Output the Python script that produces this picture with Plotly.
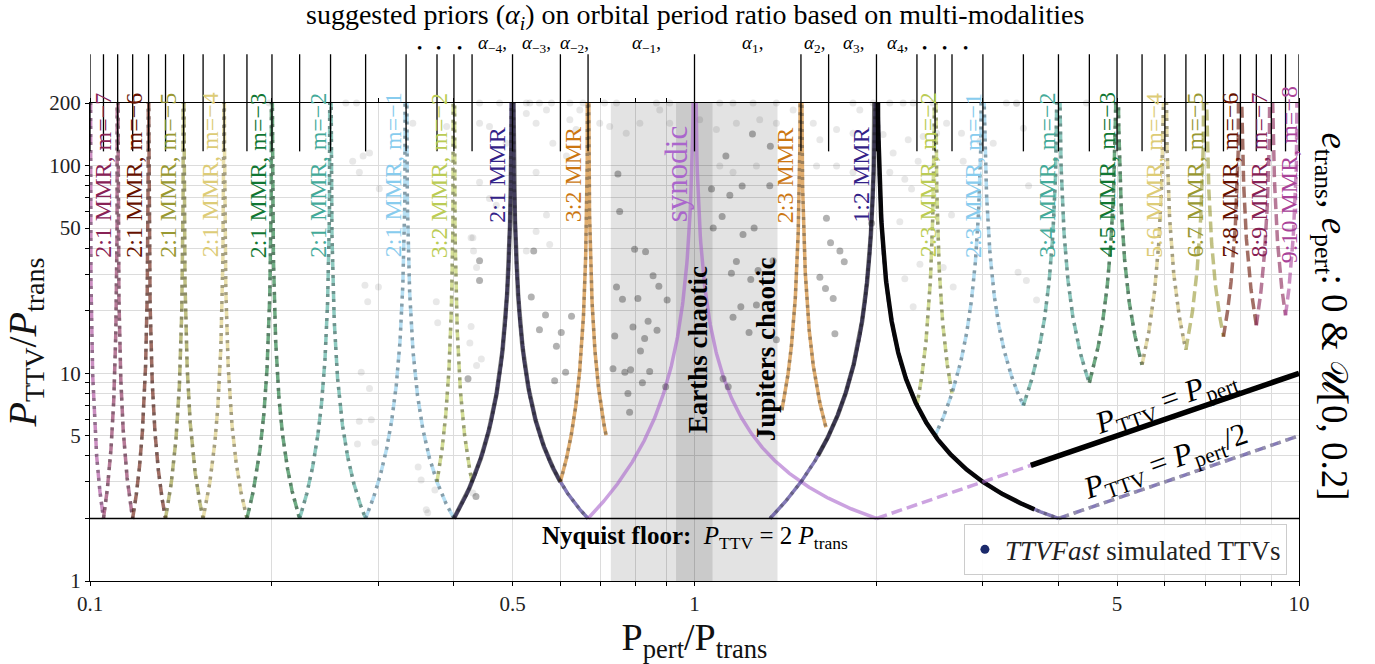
import numpy as np
import plotly.graph_objects as go

FONT = "Liberation Serif, DejaVu Serif, serif"

# ---------------- data ----------------
# axis limits (P_TTV/P_trans)
Y_MIN, Y_MAX = 1, 200
NYQUIST = 2

# near-resonance super-period curves  P_TTV = 1/|b - a/x|,  x = P_pert/P_trans
res_names = ["2:1 m=-8", "2:1 m=-7", "2:1 m=-6", "2:1 m=-5", "2:1 m=-4", "2:1 m=-3", "2:1 m=-2",
             "2:1 m=-1", "3:2 m=-2", "2:1", "3:2", "synodic", "2:3", "1:2", "2:3 m=-2", "2:3 m=-1",
             "3:4 m=-2", "4:5 m=-3", "5:6 m=-4", "6:7 m=-5", "7:8 m=-6", "8:9 m=-7", "9:10 m=-8"]
res_a = [1, 1, 1, 1, 1, 1, 1, 1, 2, 1, 2, 1, 3, 2, 5, 3, 4, 5, 6, 7, 8, 9, 10]
res_b = [10, 9, 8, 7, 6, 5, 4, 3, 5, 2, 3, 1, 2, 1, 2, 1, 1, 1, 1, 1, 1, 1, 1]
res_x0 = [0.1, 0.1053, 0.1176, 0.1333, 0.1538, 0.1818, 0.2222, 0.2857, 0.375, 0.4, 0.6,
          0.6667, 1.395, 1.3333, 2.333, 2.5, 3.5, 4.5, 5.5, 6.5, 7.5, 8.5, 9.5]
res_x1 = [0.1053, 0.1176, 0.1333, 0.1538, 0.1818, 0.2222, 0.2857, 0.4, 0.4286, 0.6667, 0.714,
          2.0, 1.65, 4.0, 2.667, 3.5, 4.5, 5.5, 6.5, 7.5, 8.5, 9.5, 10.0]
PINK, WINE, RED, OLIVE, SAND = "#AA4499", "#882255", "#661100", "#999933", "#DDCC77"
GREEN, TEAL, CYAN, PEAR = "#117733", "#44AA99", "#88CCEE", "#BBCC55"
INDIGO, ORANGE, PURPLE = "#332288", "#CC7711", "#AA66CC"
res_color = [PINK, WINE, RED, OLIVE, SAND, GREEN, TEAL, CYAN, PEAR, INDIGO, ORANGE, PURPLE,
             ORANGE, INDIGO, PEAR, CYAN, TEAL, GREEN, SAND, OLIVE, RED, WINE, PINK]
res_dashed = [1, 1, 1, 1, 1, 1, 1, 1, 1, 0, 0, 0, 0, 0, 1, 1, 1, 1, 1, 1, 1, 1, 1]
res_simdots = [1, 1, 1, 1, 1, 1, 1, 1, 1, 1, 1, 0, 1, 1, 1, 1, 1, 1, 1, 0, 0, 0, 0]

# dense simulated stretches (resonance index, x from, x to, darkness)
dense_idx = [9, 13, 13]
dense_x0 = [0.4, 1.6, 2.0]
dense_x1 = [0.6, 2.0, 3.65]
dense_alpha = [0.5, 0.55, 0.95]

# aliased linear branches P_TTV = s * P_pert
lin_slope = [1.0, 1.0, 0.5]
lin_x0 = [2.0, 3.6, 4.0]
lin_x1 = [3.6, 10.0, 10.0]
lin_color = ["rgba(170,102,204,0.6)", "black", "rgba(51,34,136,0.6)"]
lin_dashed = [1, 0, 1]

# chaotic zones (Jupiters wide, Earths narrow)
band_x0 = [0.727, 0.932]
band_x1 = [1.372, 1.071]

# suggested priors on period ratio
prior_x = [0.1, 2/19, 1/9, 2/17, 1/8, 2/15, 1/7, 2/13, 1/6, 2/11, 1/5, 2/9, 1/4, 2/7, 1/3,
           3/8, 2/5, 3/7, 1/2, 3/5, 2/3, 1, 3/2, 5/3, 2, 7/3, 5/2, 8/3, 3, 7/2, 4, 9/2, 5,
           11/2, 6, 13/2, 7, 15/2, 8, 17/2, 9, 19/2, 10]

# simulated TTV periods
sim_dark_x = [0.747, 0.752, 0.796, 0.830, 0.743, 0.760, 0.806, 0.854, 0.873, 0.838, 0.791, 0.814,
              0.827, 0.867, 0.733, 0.767, 0.784, 0.776, 0.781, 0.820, 0.843, 0.896, 0.738, 0.901,
              1.247, 1.335, 1.199, 1.332, 1.127, 1.144, 1.111, 1.203, 1.255, 1.173, 1.151, 1.239,
              1.193, 1.158, 1.115, 1.137, 1.266, 1.231, 1.366, 1.274, 1.349, 1.653, 1.679, 1.740,
              1.769, 1.647, 1.696, 1.707, 1.612, 1.963, 1.074, 1.067, 0.542, 0.554, 0.567, 0.591,
              0.602, 0.626, 0.612, 0.587, 0.537, 0.441, 0.441, 0.422, 0.435]
sim_dark_p = [91, 60, 39.5, 38.5, 26, 22.7, 22.9, 29.5, 26.2, 17.8, 16.7, 12.8,
              14.7, 16.1, 10.5, 10.1, 10.4, 8.0, 6.5, 9.0, 10.2, 8.6, 15.1, 22.5,
              142, 124, 79.6, 80, 111, 71.9, 56.8, 46.5, 50, 34.5, 30.3, 28.3,
              20.9, 18.6, 9.4, 8.6, 21.3, 15.7, 14.5, 31.2, 34.8, 55.7, 42.5, 38.8,
              34.4, 25.6, 22.9, 15.5, 29, 52.8, 50, 77, 38.8, 16.2, 19.1, 13.5,
              15.7, 18.8, 10.1, 9.2, 23.3, 34.8, 28, 9.4, 2.55]
sim_faint_x = [0.279, 0.292, 0.281, 0.290, 0.277, 0.296, 0.349, 0.353, 0.362, 0.372, 0.430, 0.444,
               0.427, 0.436, 0.425, 0.374, 0.376, 0.285, 0.300, 0.288, 0.360,
               2.257, 2.344, 2.389, 2.514, 2.612, 2.765, 2.051, 2.131, 2.104, 2.228, 2.286, 2.662,
               2.783, 2.966, 3.12, 3.41, 3.50, 3.57, 2.186, 2.36, 2.228, 2.30, 2.679, 2.579, 3.43,
               3.54, 3.68,
               0.272, 0.283, 0.290, 0.279, 0.301, 0.342, 0.389, 0.441, 0.527, 0.458, 0.430, 0.436,
               0.547, 0.488,
               0.527, 0.547, 0.569, 0.583, 0.614, 0.637, 0.458, 0.441, 0.470, 0.547, 0.569, 0.576,
               0.427, 0.431,
               0.622, 0.646, 0.697, 0.724, 0.771, 0.812, 0.876, 0.910, 1.020, 1.087, 1.173, 1.282,
               1.366, 1.456, 1.572, 1.612, 1.718, 1.829, 1.877, 1.101, 1.158, 1.266, 1.592, 1.718,
               1.829]
sim_faint_p = [5.88, 5.98, 10.1, 8.45, 4.56, 4.64, 3.54, 3.06, 2.13, 2.74, 2.65, 11.7,
               16.8, 10.9, 14.0, 22.1, 17.5, 26.5, 26, 22.1, 2.2,
               133, 105, 138, 143, 160, 143, 141, 115, 92.7, 86, 77.2, 57.8,
               105, 131, 128, 199, 151, 80, 53.7, 33.5, 28.5, 20.9, 26, 32.3, 30.6,
               28, 22.5,
               105, 111, 115, 92.7, 77.3, 160, 154, 160, 38.8, 69.3, 44.9, 32.3,
               92.7, 128,
               178, 160, 185, 128, 111, 149, 154, 83.2, 64.4, 48.2, 57.8, 41.7,
               44.9, 38.8,
               166, 185, 160, 154, 143, 160, 185, 160, 166, 149, 160, 166,
               160, 185, 160, 133, 149, 143, 185, 99.6, 92.7, 99.6, 99.6, 99.6,
               92.7]
# simulations that hit the P_TTV cap (200)
sim_cap_x = [0.198, 0.265, 0.276, 0.441, 0.476, 0.527, 0.534, 0.554, 0.580, 0.622, 0.654, 0.710,
             0.743, 0.865, 0.910, 1.101, 1.158, 1.250, 1.366, 1.829, 1.975, 2.104, 2.214, 2.30,
             2.48, 3.28, 3.41, 4.45]

# curve labels
label_text = ["2:1 MMR, m=−7", "2:1 MMR, m=−6", "2:1 MMR, m=−5", "2:1 MMR, m=−4", "2:1 MMR, m=−3",
              "2:1 MMR, m=−2", "2:1 MMR, m=−1", "3:2 MMR, m=−2", "2:1 MMR", "3:2 MMR", "2:3 MMR",
              "1:2 MMR", "2:3 MMR, m=−2", "2:3 MMR, m=−1", "3:4 MMR, m=−2", "4:5 MMR, m=−3",
              "5:6 MMR, m=−4", "6:7 MMR, m=−5", "7:8 MMR, m=−6", "8:9 MMR, m=−7", "9:10 MMR, m=−8"]
label_at = [1/9, 1/8, 1/7, 1/6, 1/5, 1/4, 1/3, 2/5, 1/2, 2/3, 3/2, 2, 5/2, 3, 4, 5, 6, 7, 8, 9, 10]
label_color = [WINE, RED, OLIVE, SAND, GREEN, TEAL, CYAN, PEAR, INDIGO, ORANGE, ORANGE, INDIGO,
               PEAR, CYAN, TEAL, GREEN, SAND, OLIVE, RED, WINE, PINK]
label_dx = [-14, -14, -15, -14, -14, -12, -13, -15, -15, -15, -16, -15, -7, -10, -11, -10, -11,
            -10, -10, -12, -10]

alpha_text = ["<i>α</i><sub>−4</sub>,", "<i>α</i><sub>−3</sub>,", "<i>α</i><sub>−2</sub>,",
              "<i>α</i><sub>−1</sub>,", "<i>α</i><sub>1</sub>,", "<i>α</i><sub>2</sub>,",
              "<i>α</i><sub>3</sub>,", "<i>α</i><sub>4</sub>,"]

x_major = [0.1, 0.5, 1, 5, 10]
x_minor = [0.2, 0.3, 0.4, 0.6, 0.7, 0.8, 0.9, 2, 3, 4, 6, 7, 8, 9]
y_major = [1, 5, 10, 50, 100, 200]
y_minor = [2, 3, 4, 6, 7, 8, 9, 20, 30, 40, 60, 70, 80, 90]


def ttv_curve(a, b, x0, x1, n=600):
    xs = np.geomspace(x0, x1, n)
    peak = a / b
    if x0 < peak < x1:
        xs = np.sort(np.concatenate([xs, [peak]]))
    f = np.abs(b - a / xs)
    return xs, 1.0 / np.maximum(f, 1e-4)


DASH = "11px,5px"
fig = go.Figure()

# chaotic bands
for x0, x1 in zip(band_x0, band_x1):
    fig.add_trace(go.Scatter(x=[x0, x1, x1, x0, x0], y=[Y_MIN, Y_MIN, Y_MAX, Y_MAX, Y_MIN],
                             mode="lines", fill="toself", fillcolor="rgba(0,0,0,0.11)",
                             line=dict(width=0), hoverinfo="skip", showlegend=False))

# faint simulated points
fig.add_trace(go.Scatter(x=sim_faint_x, y=sim_faint_p, mode="markers",
                         marker=dict(color="rgba(0,0,0,0.09)", size=7), showlegend=False))
fig.add_trace(go.Scatter(x=sim_cap_x, y=[Y_MAX] * len(sim_cap_x), mode="markers", cliponaxis=False,
                         marker=dict(color="rgba(0,0,0,0.09)", size=7), showlegend=False))

# resonance curves
for i in range(len(res_a)):
    xs, ps = ttv_curve(res_a[i], res_b[i], res_x0[i], res_x1[i])
    fig.add_trace(go.Scatter(x=xs, y=ps, mode="lines", opacity=0.6,
                             line=dict(color=res_color[i], width=3.5,
                                       dash=DASH if res_dashed[i] else "solid"),
                             hoverinfo="skip", showlegend=False))
    if res_simdots[i]:
        fig.add_trace(go.Scatter(x=xs, y=ps, mode="lines",
                                 line=dict(color="rgba(60,60,60,0.40)", width=3.5, dash="3px,5px"),
                                 hoverinfo="skip", showlegend=False))

# dense simulated stretches
for k in range(len(dense_idx)):
    i = dense_idx[k]
    xs, ps = ttv_curve(res_a[i], res_b[i], dense_x0[k], dense_x1[k])
    fig.add_trace(go.Scatter(x=xs, y=ps, mode="lines",
                             line=dict(color=f"rgba(0,0,0,{dense_alpha[k]})", width=4.5),
                             hoverinfo="skip", showlegend=False))

# linear aliased branches
for k in range(len(lin_slope)):
    xs = np.array([lin_x0[k], lin_x1[k]])
    fig.add_trace(go.Scatter(x=xs, y=lin_slope[k] * xs, mode="lines",
                             line=dict(color=lin_color[k], width=3.5 if lin_dashed[k] else 5.5,
                                       dash=DASH if lin_dashed[k] else "solid"),
                             hoverinfo="skip", showlegend=False))
xs = np.array([lin_x0[2], lin_x1[2]])
fig.add_trace(go.Scatter(x=xs, y=lin_slope[2] * xs, mode="lines",
                         line=dict(color="rgba(160,160,160,0.6)", width=3.5, dash="3px,5px"),
                         hoverinfo="skip", showlegend=False))

# darker simulated points
fig.add_trace(go.Scatter(x=sim_dark_x, y=sim_dark_p, mode="markers",
                         marker=dict(color="rgba(0,0,0,0.30)", size=7), showlegend=False))

# Nyquist floor
fig.add_trace(go.Scatter(x=[x_major[0], x_major[-1]], y=[NYQUIST, NYQUIST], mode="lines",
                         line=dict(color="black", width=1.6), hoverinfo="skip", showlegend=False))

# legend handle
fig.add_trace(go.Scatter(x=[None], y=[None], mode="markers",
                         marker=dict(color="#1B2A6B", size=9),
                         name="<i>TTVFast</i> simulated TTVs"))

# prior lines above the panel
LOG_TOP = np.log10(Y_MAX)
for px in prior_x:
    fig.add_shape(type="line", xref="x", yref="paper", x0=px, x1=px,
                  y0=np.log10(117) / LOG_TOP, y1=1.102,
                  line=dict(color="black", width=1.3))


def note(x, y, text, size, color="black", xref="paper", yref="paper", angle=0, dx=0):
    return dict(x=x, y=y, xref=xref, yref=yref, text=text, textangle=angle, showarrow=False,
                xshift=dx, xanchor="center", yanchor="middle",
                font=dict(size=size, color=color, family=FONT))


ann = []
for t, at, c, dx in zip(label_text, label_at, label_color, label_dx):
    ann.append(note(np.log10(at), 0.849, t, 24, c, xref="x", angle=-90, dx=dx))
ann.append(note(0, 0.850, "synodic", 31, PURPLE, xref="x", angle=-90, dx=-18))
ann.append(note(np.log10(1.0125), np.log10(13), "<b>Earths chaotic</b>", 27,
                xref="x", yref="y", angle=-90))
ann.append(note(np.log10(1.315), np.log10(13.1), "<b>Jupiters chaotic</b>", 27,
                xref="x", yref="y", angle=-90))
ann.append(note(0.5, 0.092,
                "<b>Nyquist floor:</b>  <i>P</i><sub>TTV</sub> = 2 <i>P</i><sub>trans</sub>", 25))
ann.append(note(np.log10(6.03), np.log10(7.3), "<i>P</i><sub>TTV</sub> = <i>P</i><sub>pert</sub>",
                31, xref="x", yref="y", angle=-19.5))
ann.append(note(np.log10(6.03), np.log10(3.7),
                "<i>P</i><sub>TTV</sub> = <i>P</i><sub>pert</sub>/2", 31, xref="x", yref="y",
                angle=-19.5))
ann.append(note(1.0273, 0.5535,
                "<i>e</i><sub>trans</sub>, <i>e</i><sub>pert</sub>: 0 &amp; 𝒰[0, 0.2]", 37, angle=90))
ann.append(note(0.5, 1.18,
                "suggested priors (<i>α<sub>i</sub></i>) on orbital period ratio based on multi-modalities",
                28))
alpha_px = [0.333, 0.3695, 0.4009, 0.4605, 0.5482, 0.5995, 0.6318, 0.6682]
for t, xp in zip(alpha_text, alpha_px):
    ann.append(note(xp, 1.124, t, 19))
for xp in [0.2727, 0.2884, 0.3058, 0.6905, 0.7071, 0.7245]:
    ann.append(note(xp, 1.115, "•", 15))

axis_common = dict(type="log", ticks="outside", ticklen=4, tickcolor="black", showline=True,
                   linecolor="black", linewidth=1.2, showgrid=True, gridcolor="#dcdcdc",
                   gridwidth=1, zeroline=False, tickfont=dict(size=21, color="#222", family=FONT))
fig.update_layout(
    width=1375, height=664, margin=dict(l=90, r=76, t=103, b=75),
    plot_bgcolor="white", paper_bgcolor="white", hovermode=False,
    font=dict(family=FONT, color="#111"),
    showlegend=True,
    legend=dict(x=0.99, y=0.012, xanchor="right", yanchor="bottom", bordercolor="#cccccc",
                borderwidth=1, bgcolor="rgba(255,255,255,0.9)",
                font=dict(size=27, family=FONT, color="#222")),
    xaxis=dict(axis_common, range=[-1, 1], tickvals=x_major, ticktext=["0.1", "0.5", "1", "5", "10"],
               mirror="ticks",
               minor=dict(tickvals=x_minor, ticks="outside", ticklen=4, tickcolor="black",
                          showgrid=True, gridcolor="#dcdcdc"),
               title=dict(text="P<sub>pert</sub>/P<sub>trans</sub>", standoff=9,
                          font=dict(size=38, family=FONT, color="#111"))),
    yaxis=dict(axis_common, range=[0, LOG_TOP], tickvals=y_major,
               ticktext=[str(v) for v in y_major], mirror=True,
               minor=dict(tickvals=y_minor, ticks="outside", ticklen=4, tickcolor="black",
                          showgrid=True, gridcolor="#dcdcdc"),
               title=dict(text="<i>P</i><sub>TTV</sub>/<i>P</i><sub>trans</sub>", standoff=6,
                          font=dict(size=40, family=FONT, color="#111"))),
    annotations=ann,
)
fig.write_html("out.html")
